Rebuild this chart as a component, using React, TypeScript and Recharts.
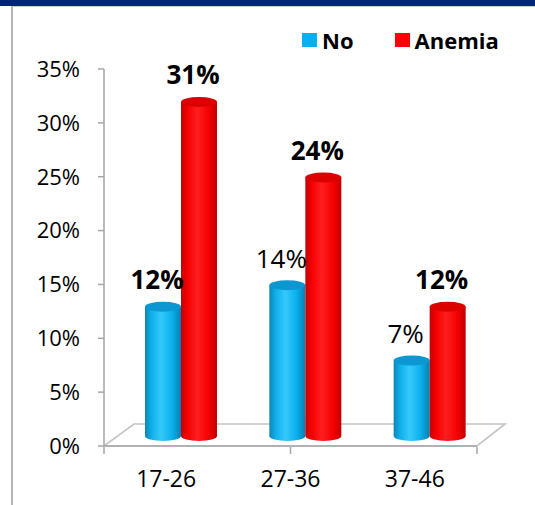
import React from "react";
import { BarChart, Bar, XAxis, YAxis, Legend, LabelList, Customized } from "recharts";

const CATEGORIES = ["17-26", "27-36", "37-46"];
const NO_VALUES = [12, 14, 7];
const ANEMIA_VALUES = [31, 24, 12];
const Y_TICKS = [0, 5, 10, 15, 20, 25, 30, 35];
const EDGE_TICKS = [0, 1, 2, 3];
const SERIES_ORDER = ["no", "anemia"];

// the blue labels are only bold in the first group
const NO_LABEL_BOLD = [true, false, false];

const data = CATEGORIES.map((group, i) => ({
  group,
  no: NO_VALUES[i],
  anemia: ANEMIA_VALUES[i],
}));

const W = 535;
const H = 505;
const MARGIN = { top: 69, right: 58, left: 0, bottom: 57 };
const Y_AXIS_W = 104;

// fake 3d depth: bars sit halfway back on the floor
const DX = 15;
const DY = 10;
const FLOOR_DX = 30;
const FLOOR_DY = 22;
const RY = 5;

const FONT = "'Open Sans', 'DejaVu Sans', sans-serif";
const AXIS_GRAY = "#a6a6a6";

const Floor = () => {
  const left = MARGIN.left + Y_AXIS_W;
  const right = W - MARGIN.right;
  const base = H - MARGIN.bottom - 2;
  const pts = [
    [left, base],
    [left + FLOOR_DX, base - FLOOR_DY],
    [right + FLOOR_DX - 2, base - FLOOR_DY],
    [right, base],
  ]
    .map((p) => p.join(","))
    .join(" ");
  return <polygon points={pts} fill="#fff" stroke="#c4c4c4" strokeWidth={1.6} />;
};

const makeCylinder = (grad: string, topFill: string) => (props: any) => {
  const { x, y, width, height } = props;
  if (height == null || width == null) return null;
  const x0 = x + DX;
  const rx = width / 2;
  const cx = x0 + rx;
  const top = y - DY;
  const bottom = y + height - DY;
  const body = `M${x0},${top} L${x0},${bottom} A${rx},${RY} 0 0 0 ${x0 + width},${bottom} L${x0 + width},${top} Z`;
  return (
    <g>
      <path d={body} fill={`url(#${grad})`} />
      <ellipse cx={cx} cy={top} rx={rx} ry={RY} fill={topFill} />
    </g>
  );
};

const NoCylinder = makeCylinder("cylNo", "#0b98d2");
const AnemiaCylinder = makeCylinder("cylAnemia", "#dc0000");

const makeLabel = (boldFor: (i: number) => boolean) => (props: any) => {
  const { x, y, width, value, index } = props;
  if (x == null) return null;
  return (
    <text
      x={x + width / 2 + DX - 6}
      y={y - DY - 27}
      dy="0.36em"
      textAnchor="middle"
      fontFamily={FONT}
      fontSize={26}
      fontWeight={boldFor(index) ? 700 : 400}
      fill="#000"
    >
      {`${value}%`}
    </text>
  );
};

const NoLabel = makeLabel((i) => NO_LABEL_BOLD[i]);
const AnemiaLabel = makeLabel(() => true);

const renderLegend = (props: any) => {
  const payload = [...(props.payload || [])].sort(
    (a: any, b: any) => SERIES_ORDER.indexOf(a.dataKey) - SERIES_ORDER.indexOf(b.dataKey)
  );
  return (
    <div style={{ display: "flex", alignItems: "center", fontFamily: FONT }}>
      {payload.map((p: any, i: number) => (
        <div key={i} style={{ display: "flex", alignItems: "center", marginRight: i === 0 ? 41 : 0 }}>
          <span style={{ width: 15, height: 14, background: p.color, display: "inline-block", marginRight: 5 }} />
          <span style={{ fontSize: 22, fontWeight: 700, color: "#000", lineHeight: "24px" }}>{p.value}</span>
        </div>
      ))}
    </div>
  );
};

export default function App() {
  return (
    <div style={{ position: "absolute", left: 0, top: 0, width: W, height: H, background: "#fff", overflow: "hidden" }}>
      <div style={{ position: "absolute", left: 0, top: 0, width: W, height: 6, background: "#002571" }} />
      <div
        style={{
          position: "absolute",
          left: 11,
          top: 6,
          width: W,
          height: H,
          borderLeft: "2px solid #b4b4b4",
          borderTop: "1px solid #cfcfcf",
        }}
      />
      <div style={{ position: "absolute", left: 0, top: 0 }}>
        <BarChart width={W} height={H} data={data} margin={MARGIN} barGap={0} barSize={36}>
          <defs>
            <linearGradient id="cylNo" x1="0" y1="0" x2="1" y2="0">
              <stop offset="0%" stopColor="#0a86b9" />
              <stop offset="18%" stopColor="#0fb0ea" />
              <stop offset="45%" stopColor="#35c9fb" />
              <stop offset="75%" stopColor="#0bb0ec" />
              <stop offset="100%" stopColor="#067fb2" />
            </linearGradient>
            <linearGradient id="cylAnemia" x1="0" y1="0" x2="1" y2="0">
              <stop offset="0%" stopColor="#c40000" />
              <stop offset="18%" stopColor="#f50000" />
              <stop offset="45%" stopColor="#ff1e1e" />
              <stop offset="78%" stopColor="#f40000" />
              <stop offset="100%" stopColor="#bf0000" />
            </linearGradient>
          </defs>
          <Customized component={Floor} />
          <XAxis
            xAxisId="edge"
            type="number"
            domain={[0, 3]}
            ticks={EDGE_TICKS}
            height={1}
            axisLine={false}
            tickSize={7}
            tickLine={{ stroke: AXIS_GRAY, strokeWidth: 1.5 }}
            tickFormatter={() => ""}
          />
          <XAxis
            xAxisId="cat"
            dataKey="group"
            height={1}
            tickLine={false}
            tickSize={0}
            tickMargin={25}
            axisLine={{ stroke: AXIS_GRAY, strokeWidth: 1.5 }}
            tick={{ fontSize: 23, fill: "#000", fontFamily: FONT }}
          />
          <YAxis
            width={Y_AXIS_W}
            domain={[0, 35]}
            ticks={Y_TICKS}
            interval={0}
            tickFormatter={(v) => `${v}%`}
            tickSize={6}
            tickMargin={18}
            axisLine={{ stroke: AXIS_GRAY, strokeWidth: 1.5 }}
            tickLine={{ stroke: AXIS_GRAY, strokeWidth: 1.5 }}
            tick={{ fontSize: 22, fill: "#000", fontFamily: FONT }}
          />
          <Legend
            content={renderLegend}
            layout="horizontal"
            verticalAlign="middle"
            align="center"
            wrapperStyle={{ position: "absolute", top: 28, left: 302, width: "auto" }}
          />
          <Bar xAxisId="cat" dataKey="no" name="No" fill="#00B0F0" shape={NoCylinder} isAnimationActive={false}>
            <LabelList dataKey="no" content={NoLabel} />
          </Bar>
          <Bar xAxisId="cat" dataKey="anemia" name="Anemia" fill="#FF0000" shape={AnemiaCylinder} isAnimationActive={false}>
            <LabelList dataKey="anemia" content={AnemiaLabel} />
          </Bar>
        </BarChart>
      </div>
    </div>
  );
}
